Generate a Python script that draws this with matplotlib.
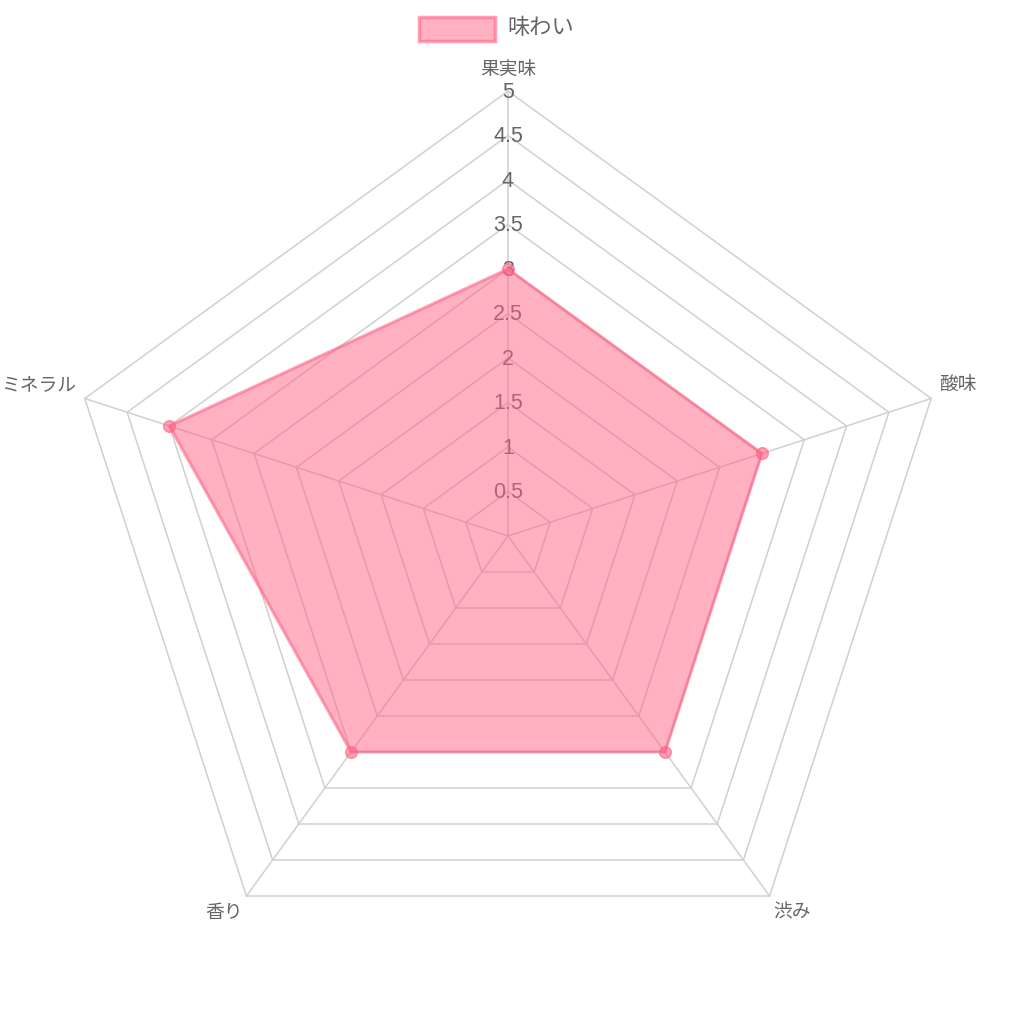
import numpy as np
import matplotlib
matplotlib.use("Agg")
import matplotlib.pyplot as plt
from matplotlib.patches import Polygon, Rectangle

plt.rcParams["font.family"] = ["Liberation Sans", "Noto Sans CJK JP", "DejaVu Sans"]

# ---- data ----------------------------------------------------------------
labels = ["果実味", "酸味", "渋み", "香り", "ミネラル"]
values = [3, 3, 3, 3, 4]
ticks = [0.5, 1, 1.5, 2, 2.5, 3, 3.5, 4, 4.5, 5]
tick_labels = ["0.5", "1", "1.5", "2", "2.5", "3", "3.5", "4", "4.5", "5"]
series_name = "味わい"

# ---- geometry (pixel space) ---------------------------------------------
CX, CY, R, VMAX = 508, 537, 445, 5
GRID = "#d0d0d0"
TXT = "#666666"
PINK = (255 / 255, 99 / 255, 132 / 255)

n = len(labels)
ang = np.pi / 2 - 2 * np.pi * np.arange(n) / n


def xy(v, a):
    r = R * v / VMAX
    return CX + r * np.cos(a), CY - r * np.sin(a)


fig = plt.figure(figsize=(10.12, 10.12), dpi=100)
ax = fig.add_axes([0, 0, 1, 1])
ax.set_xlim(0, 1012)
ax.set_ylim(1012, 0)
ax.axis("off")

# grid pentagons + spokes
for t in ticks:
    px, py = xy(t, ang)
    ax.add_patch(Polygon(np.column_stack([px, py]), closed=True, fill=False,
                         ec=GRID, lw=1.1, zorder=1))
for a in ang:
    ex, ey = xy(VMAX, a)
    ax.plot([CX, ex], [CY, ey], color=GRID, lw=1.1, zorder=1)

# tick labels (drawn under the fill)
for t, tl in zip(ticks, tick_labels):
    _, ty = xy(t, np.pi / 2)
    ax.text(CX, ty, tl, ha="center", va="center", fontsize=15.5, color=TXT, zorder=2)

# data polygon
px, py = xy(np.array(values, float), ang)
ax.add_patch(Polygon(np.column_stack([px, py]), closed=True,
                     fc=(*PINK, 0.5), ec=(*PINK, 0.6), lw=2.2, zorder=3))
ax.scatter(px, py, s=70, color=(*PINK, 0.6), ec=(*PINK, 0.7), lw=1, zorder=4)

# point labels
lx, ly = xy(VMAX, ang)
ax.text(lx[0], 70, labels[0], ha="center", va="center", fontsize=13.5, color=TXT)
ax.text(lx[1] + 9, ly[1] - 14, labels[1], ha="left", va="center", fontsize=13.5, color=TXT)
ax.text(lx[2] + 4, ly[2] + 16, labels[2], ha="left", va="center", fontsize=13.5, color=TXT)
ax.text(lx[3] - 4, ly[3] + 16, labels[3], ha="right", va="center", fontsize=13.5, color=TXT)
ax.text(lx[4] - 9, ly[4] - 14, labels[4], ha="right", va="center", fontsize=13.5, color=TXT)

# legend
ax.add_patch(Rectangle((419, 18), 76, 24, fc=(*PINK, 0.5), ec=(*PINK, 0.6), lw=2.5))
ax.text(507, 28, series_name, ha="left", va="center", fontsize=16, color=TXT)

fig.savefig("out.png", dpi=100)
